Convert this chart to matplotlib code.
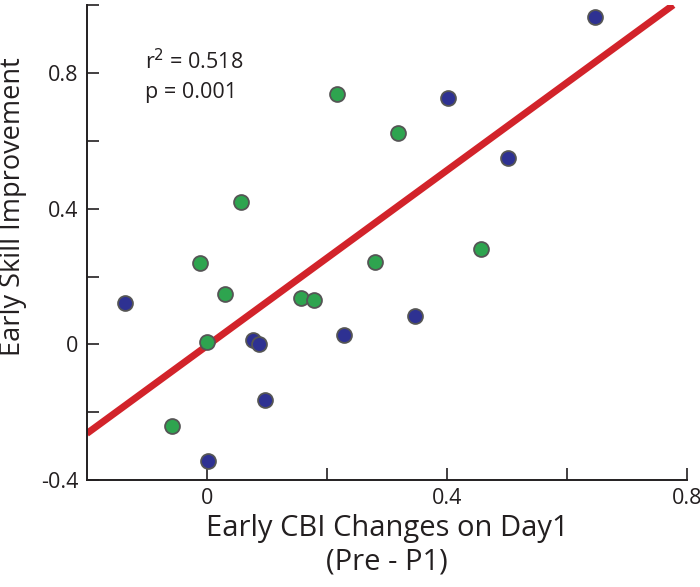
import numpy as np
import matplotlib
matplotlib.use("Agg")
import matplotlib.pyplot as plt

plt.rcParams['font.family'] = ['Open Sans', 'DejaVu Sans']

# group 1 (blue)
blue_x = [0.6455, 0.4017, 0.5017, 0.346, 0.229, -0.136, 0.076, 0.086, 0.096, 0.001]
blue_y = [0.965, 0.727, 0.548, 0.083, 0.0285, 0.1226, 0.012, 0.0, -0.163, -0.344]

# group 2 (green)
green_x = [0.2167, 0.0567, -0.0122, 0.0305, 0.157, 0.178, 0.0, -0.0583, 0.318, 0.457, 0.2805]
green_y = [0.739, 0.4186, 0.239, 0.149, 0.137, 0.131, 0.007, -0.241, 0.6216, 0.281, 0.242]

# regression line
slope = 1.293
intercept = -0.004
fit_x = np.array([-0.2, 0.7765])

x_ticks = [0, 0.2, 0.4, 0.6, 0.8]
x_labels = ['0', '', '0.4', '', '0.8']
y_ticks = [-0.4, -0.2, 0, 0.2, 0.4, 0.6, 0.8, 1.0]
y_labels = ['-0.4', '', '0', '', '0.4', '', '0.8', '']

fig = plt.figure(figsize=(7, 5.87), dpi=100)
ax = fig.add_axes([0.124, 0.182, 0.858, 0.8095])

ax.plot(fit_x, slope * fit_x + intercept, color='#d2232a', lw=5, solid_capstyle='butt', zorder=2)
ax.scatter(green_x, green_y, s=115, color='#2ea44f', edgecolor='#555555', linewidth=1.3, zorder=3)
ax.scatter(blue_x, blue_y, s=115, color='#2e3192', edgecolor='#555555', linewidth=1.3, zorder=3)

ax.set_xlim(-0.2, 0.8)
ax.set_ylim(-0.4, 1.0)
ax.set_xticks(x_ticks)
ax.set_xticklabels(x_labels)
ax.set_yticks(y_ticks)
ax.set_yticklabels(y_labels)
ax.tick_params(direction='in', length=8.4, width=1.2, labelsize=15.5, colors='#231f20', pad=6)

for side in ['top', 'right']:
    ax.spines[side].set_visible(False)
for side in ['left', 'bottom']:
    ax.spines[side].set_linewidth(1.4)
    ax.spines[side].set_color('#231f20')

ax.text(0.097, 0.88, 'r$^2$ = 0.518', transform=ax.transAxes, fontsize=15.5, color='#231f20', va='center')
ax.text(0.097, 0.815, 'p = 0.001', transform=ax.transAxes, fontsize=15.5, color='#231f20', va='center')

ax.set_xlabel('Early CBI Changes on Day1\n(Pre - P1)', fontsize=21, color='#231f20', labelpad=3, linespacing=1.2)
ax.set_ylabel('Early Skill Improvement', fontsize=19.5, color='#231f20')
ax.yaxis.set_label_coords(-0.1, 0.575)

fig.savefig('out.png', dpi=100)
